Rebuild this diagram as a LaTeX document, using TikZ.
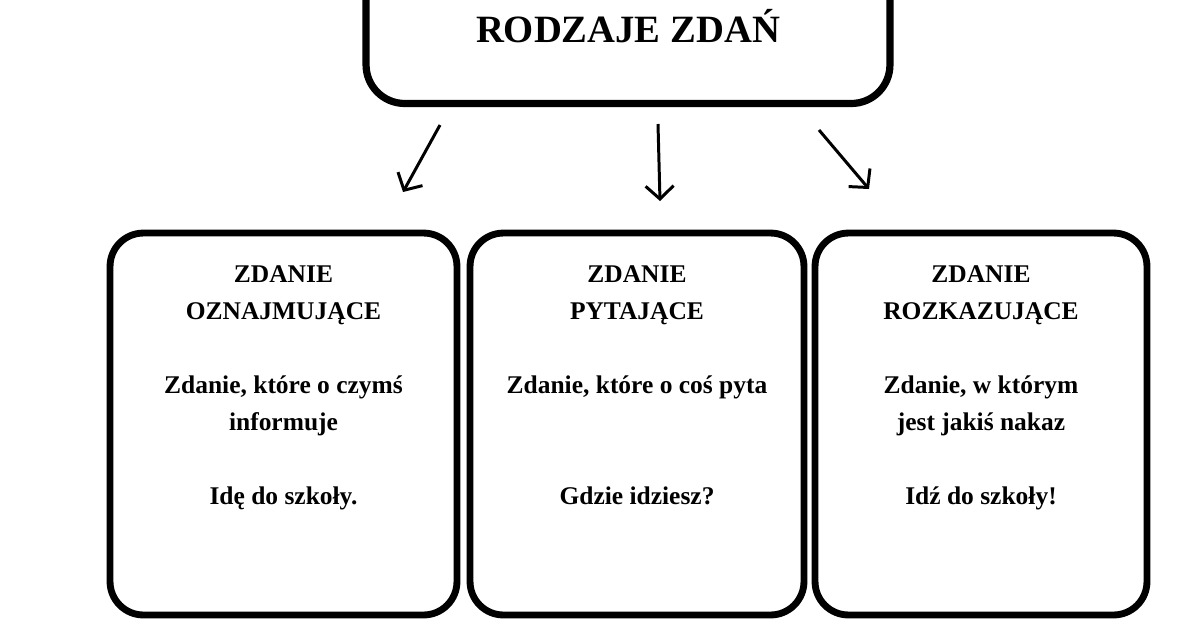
\documentclass[tikz,border=0pt]{standalone}
\usepackage{fontspec}
\setmainfont{Liberation Serif}
\usetikzlibrary{arrows.meta}

\begin{document}
\begin{tikzpicture}[x=0.02cm, y=-0.02cm,
  rodzaj/.style={draw, line width=3.9pt, rounded corners=19pt, minimum height=7.64cm},
  opis/.style={anchor=north, inner sep=0pt, align=center, font=\fontsize{14.5}{21}\selectfont\bfseries},
  strzalka/.style={line width=1.7pt, -{Straight Barb[length=2.6mm, width=5.6mm, line width=1.7pt]}}
]
\clip (0,0) rectangle (1200,630);
\fill[white] (0,0) rectangle (1200,630);

% tytul
\node[draw, line width=4.1pt, rounded corners=22pt, minimum width=10.48cm, minimum height=3.1cm,
  font=\fontsize{22}{26}\selectfont\bfseries] (glowny) at (628,26) {RODZAJE ZDAŃ};

% rodzaje zdan
\node[rodzaj, minimum width=6.94cm] (oznajm) at (283.5,424) {};
\node[rodzaj, minimum width=6.68cm] (pytaj) at (637,424) {};
\node[rodzaj, minimum width=6.64cm] (rozkaz) at (981,424) {};

\node[opis] (oznajmtxt) at (oznajm.north |- 0,265.5)
  {ZDANIE\\OZNAJMUJĄCE\\[21pt]Zdanie, które o czymś\\informuje\\[21pt]Idę do szkoły.};
\node[opis] (pytajtxt) at (pytaj.north |- 0,265.5)
  {ZDANIE\\PYTAJĄCE\\[21pt]Zdanie, które o coś pyta\\[42pt]Gdzie idziesz?};
\node[opis] (rozkaztxt) at (rozkaz.north |- 0,265.5)
  {ZDANIE\\ROZKAZUJĄCE\\[21pt]Zdanie, w którym\\ jest jakiś nakaz\\[21pt]Idź do szkoły!};

% strzalki
\coordinate (s1) at (440,125);
\coordinate (e1) at (403,192);
\coordinate (s2) at (658,124);
\coordinate (e2) at (660,201);
\coordinate (s3) at (819,130);
\coordinate (e3) at (869,189);
\draw[strzalka] (s1) -- (e1);
\draw[strzalka] (s2) -- (e2);
\draw[strzalka] (s3) -- (e3);
\end{tikzpicture}
\end{document}
